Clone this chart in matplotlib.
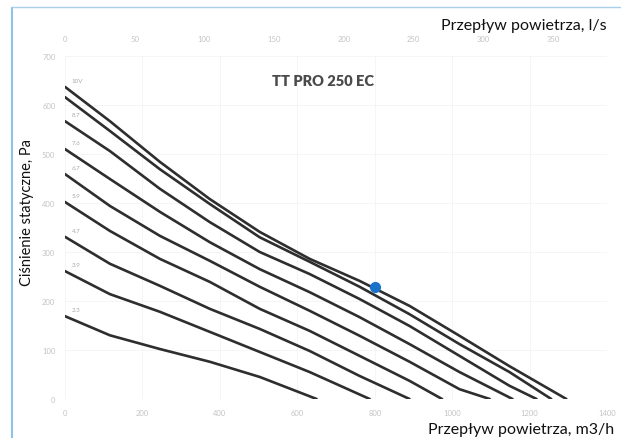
import matplotlib
matplotlib.use("Agg")
import matplotlib.pyplot as plt
from matplotlib.lines import Line2D

plt.rcParams['font.family'] = ['Lato', 'DejaVu Sans']

# Airflow (m3/h) and static pressure (Pa) for each fan speed curve
q_c1 = [0, 116, 245, 374, 503, 632, 761, 890, 1019, 1148, 1295]
p_c1 = [637, 567, 484, 408, 341, 286, 241, 190, 129, 67, 0]
q_c2 = [0, 116, 245, 374, 503, 632, 761, 890, 1019, 1148, 1256]
p_c2 = [616, 547, 469, 398, 330, 280, 229, 173, 112, 55, 0]
q_c3 = [0, 116, 245, 374, 503, 632, 761, 890, 1019, 1148, 1218]
p_c3 = [567, 506, 429, 361, 300, 255, 204, 149, 88, 27, 0]
q_c4 = [0, 116, 245, 374, 503, 632, 761, 890, 1019, 1156]
p_c4 = [510, 449, 382, 320, 265, 218, 167, 112, 55, 0]
q_c5 = [0, 116, 245, 374, 503, 632, 761, 890, 1019, 1097]
p_c5 = [459, 394, 333, 282, 229, 180, 129, 76, 20, 0]
q_c6 = [0, 116, 245, 374, 503, 632, 761, 890, 974]
p_c6 = [402, 343, 286, 239, 184, 139, 88, 37, 0]
q_c7 = [0, 116, 245, 374, 503, 632, 761, 890]
p_c7 = [331, 276, 231, 184, 143, 98, 47, 0]
q_c8 = [0, 116, 245, 374, 503, 632, 787]
p_c8 = [261, 214, 178, 137, 96, 55, 0]
q_c9 = [0, 116, 245, 374, 503, 650]
p_c9 = [169, 130, 102, 76, 45, 0]

curve_labels = ["10V", "", "8.7", "7.6", "6.7", "5.9", "4.7", "3.9", "2.3"]

point_q = [802]
point_p = [229]

x_ticks = [0, 200, 400, 600, 800, 1000, 1200, 1400]
y_ticks = [0, 100, 200, 300, 400, 500, 600, 700]
top_ticks = [0, 50, 100, 150, 200, 250, 300, 350]

title = "TT PRO 250 EC"
ylabel = "Ciśnienie statyczne, Pa"
xlabel_bottom = "Przepływ powietrza, m3/h"
xlabel_top = "Przepływ powietrza, l/s"

fig = plt.figure(figsize=(6.21, 4.39), dpi=100)
fig.patch.set_facecolor("white")
ax = fig.add_axes([65/621, 1-400/439, 542/621, 343/439])

curves = [(q_c1, p_c1), (q_c2, p_c2), (q_c3, p_c3), (q_c4, p_c4), (q_c5, p_c5),
          (q_c6, p_c6), (q_c7, p_c7), (q_c8, p_c8), (q_c9, p_c9)]
for (q, p), lab in zip(curves, curve_labels):
    ax.plot(q, p, color="#2e2e2e", lw=1.9, solid_capstyle="round",
            solid_joinstyle="round", zorder=3)
    if lab:
        ax.text(q[0] + 18, p[0] + 8, lab, fontsize=4.5, color="#aaaaaa",
                ha="left", va="bottom")

ax.plot(point_q, point_p, 'o', color="#1a73c9", ms=7, zorder=4)

ax.set_xlim(0, 1400)
ax.set_ylim(0, 700)
ax.set_xticks(x_ticks)
ax.set_yticks(y_ticks)
ax.tick_params(length=0, labelsize=5.5, labelcolor="#c4c4c4", pad=7)
ax.grid(True, color="#f4f4f4", lw=0.6)
for s in ax.spines.values():
    s.set_visible(False)

sec = ax.secondary_xaxis('top', functions=(lambda v: v / 3.6, lambda v: v * 3.6))
sec.set_xticks(top_ticks)
sec.tick_params(length=0, labelsize=5.5, labelcolor="#c4c4c4", pad=10)
for s in sec.spines.values():
    s.set_visible(False)

ax.text(0.476, 0.93, title, transform=ax.transAxes, ha="center", va="center",
        fontsize=10.5, fontweight="heavy", color="#4a4a4a")

fig.text(27/621, 1-213/439, ylabel, rotation=90, ha="center", va="center",
         fontsize=10.5, color="#111111")
fig.text(607/621, 1-26/439, xlabel_top, ha="right", va="center",
         fontsize=11.5, color="#111111")
fig.text(614/621, 1-430/439, xlabel_bottom, ha="right", va="center",
         fontsize=11.5, color="#111111")

# light blue frame on the left and top edges
fig.add_artist(Line2D([12/621, 12/621], [0, 1-9/439], transform=fig.transFigure,
                      color="#8cc4e8", lw=1.5))
fig.add_artist(Line2D([12/621, 1], [1-8/439, 1-8/439], transform=fig.transFigure,
                      color="#a8d0ec", lw=1.0))

fig.savefig("out.png", dpi=100, facecolor="white")
